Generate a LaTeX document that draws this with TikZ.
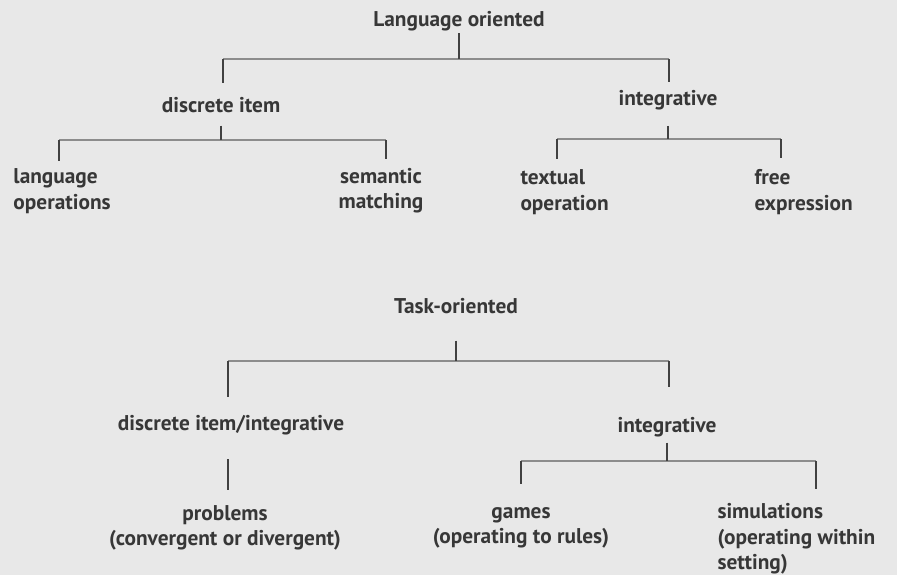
\documentclass[tikz,border=0pt]{standalone}
\usepackage{fontspec}
\setmainfont{PT Sans}

\definecolor{pagebg}{RGB}{232,232,232}
\definecolor{ink}{RGB}{55,55,55}
\definecolor{stemgrey}{RGB}{65,65,65}
\definecolor{bargrey}{RGB}{140,140,140}

\tikzset{every picture/.style={line width=0.75pt}}
\tikzset{
  lbl/.style={font=\fontsize{16}{19}\selectfont\bfseries, text=ink, inner sep=0pt},
  stem/.style={draw=stemgrey, line width=1.5pt},
  bar/.style={draw=bargrey, line width=1.5pt}
}

\begin{document}
\begin{tikzpicture}[x=0.75pt,y=0.75pt,yscale=-1,xscale=1]
	%set diagram size to 897 x 575
	\fill [pagebg] (0,0) rectangle (897,575);
	\useasboundingbox (0,0) rectangle (897,575);
	
	% Text Node
	\node [lbl] (lang) at (459,21) {Language oriented};
	% Text Node
	\node [lbl] (ditem) at (221,105) {discrete item};
	% Text Node
	\node [lbl] (integ) at (668,100) {integrative};
	% Text Node
	\node [lbl, align=left, anchor=west] (langop) at (13,191) {language\\operations};
	% Text Node
	\node [lbl, align=center] (semmat) at (381,191) {semantic\\matching};
	% Text Node
	\node [lbl, align=left, anchor=west] (textop) at (520,192) {textual\\operation};
	% Text Node
	\node [lbl, align=left, anchor=west] (freeex) at (754,192) {free\\expression};
	
	% Text Node
	\node [lbl] (task) at (456,306) {Task-oriented};
	% Text Node
	\node [lbl] (dinteg) at (231,425) {discrete item/integrative};
	% Text Node
	\node [lbl] (integb) at (667,427) {integrative};
	% Text Node
	\node [lbl, align=center] (probs) at (225,528) {problems\\(convergent or divergent)};
	% Text Node
	\node [lbl, align=center] (games) at (521,528) {games\\(operating to rules)};
	% Text Node
	\node [lbl, align=left, anchor=west] (simul) at (717,539) {simulations\\(operating within\\setting)};
	
	%Bar ends
	\coordinate (barA1) at (223,59);
	\coordinate (barA2) at (669,59);
	\coordinate (barB1) at (59,140);
	\coordinate (barB2) at (386,140);
	\coordinate (barC1) at (557,139);
	\coordinate (barC2) at (781,139);
	\coordinate (barD1) at (228,361);
	\coordinate (barD2) at (669,361);
	\coordinate (barE1) at (521,461);
	\coordinate (barE2) at (816,461);
	
	%Horizontal Lines
	\draw [bar] (barA1) -- (barA2);
	\draw [bar] (barB1) -- (barB2);
	\draw [bar] (barC1) -- (barC2);
	\draw [bar] (barD1) -- (barD2);
	\draw [bar] (barE1) -- (barE2);
	
	%Vertical Lines, language oriented
	\draw [stem, shorten <=1.5pt] (lang.south) -- (lang.south |- barA1);
	\draw [stem, shorten >=10pt] (barA1) -- (barA1 |- ditem.north);
	\draw [stem, shorten >=5.7pt] (barA2) -- (barA2 |- integ.north);
	\draw [stem, shorten <=9.3pt] (ditem.south) -- (ditem.south |- barB1);
	\draw [stem, shorten >=5.8pt] (barB1) -- (barB1 |- langop.north);
	\draw [stem, shorten >=7pt] (barB2) -- (barB2 |- semmat.north);
	\draw [stem, shorten <=11.7pt] (integ.south) -- (integ.south |- barC1);
	\draw [stem, shorten >=8pt] (barC1) -- (barC1 |- textop.north);
	\draw [stem, shorten >=8pt] (barC2) -- (barC2 |- freeex.north);
	
	%Vertical Lines, task oriented
	\draw [stem, shorten <=19.8pt] (task.south) -- (task.south |- barD1);
	\draw [stem, shorten >=13pt] (barD1) -- (barD1 |- dinteg.north);
	\draw [stem, shorten >=22pt] (barD2) -- (barD2 |- integb.north);
	\draw [stem, shorten <=17.8pt, shorten >=11pt] (barD1 |- dinteg.south) -- (barD1 |- probs.north);
	\draw [stem, shorten <=4pt] (integb.south) -- (integb.south |- barE1);
	\draw [stem, shorten >=17pt] (barE1) -- (barE1 |- games.north);
	\draw [stem, shorten >=11pt] (barE2) -- (barE2 |- simul.north);
	
\end{tikzpicture}
\end{document}
